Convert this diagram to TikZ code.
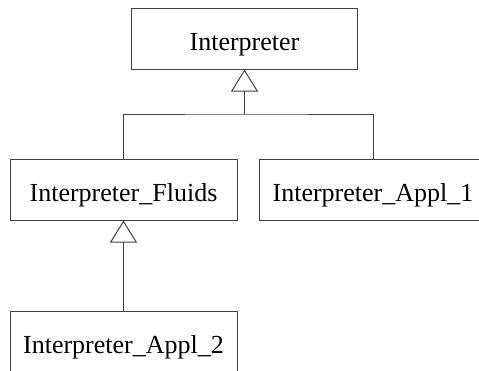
\documentclass[tikz,border=0pt]{standalone}
\usepackage{fontspec}
\setmainfont{Liberation Serif}
\usetikzlibrary{arrows.meta}
\begin{document}
\begin{tikzpicture}[x=1pt,y=-1pt,
  cls/.style={draw=black!75,line width=1pt,fill=white,minimum width=226pt,minimum height=61pt,inner sep=0pt,text height=24pt,text depth=0pt,font=\fontsize{26}{30}\selectfont},
  conn/.style={draw=black!75,line width=1pt},
  inh/.style={conn,-{Triangle[open,length=22pt,width=27pt,line width=1pt]}}]
\useasboundingbox (0,0) rectangle (479,370);
\clip (0,0) rectangle (479,370);
\node[cls] (interp) at (244.5,38.5) {Interpreter};
\node[cls,minimum width=227pt] (fluids) at (123.5,189.5) {Interpreter\_Fluids};
\node[cls,minimum width=228pt] (appl1) at (373,189.5) {Interpreter\_Appl\_1};
\node[cls,minimum width=227pt] (appl2) at (123.5,341.5) {Interpreter\_Appl\_2};
\coordinate (j) at (244.5,114);
\draw[conn] (fluids.north) |- (j) -| (appl1.north);
\draw[inh] (j) -- (interp.south);
\draw[inh] (appl2.north) -- (fluids.south);
\end{tikzpicture}
\end{document}
